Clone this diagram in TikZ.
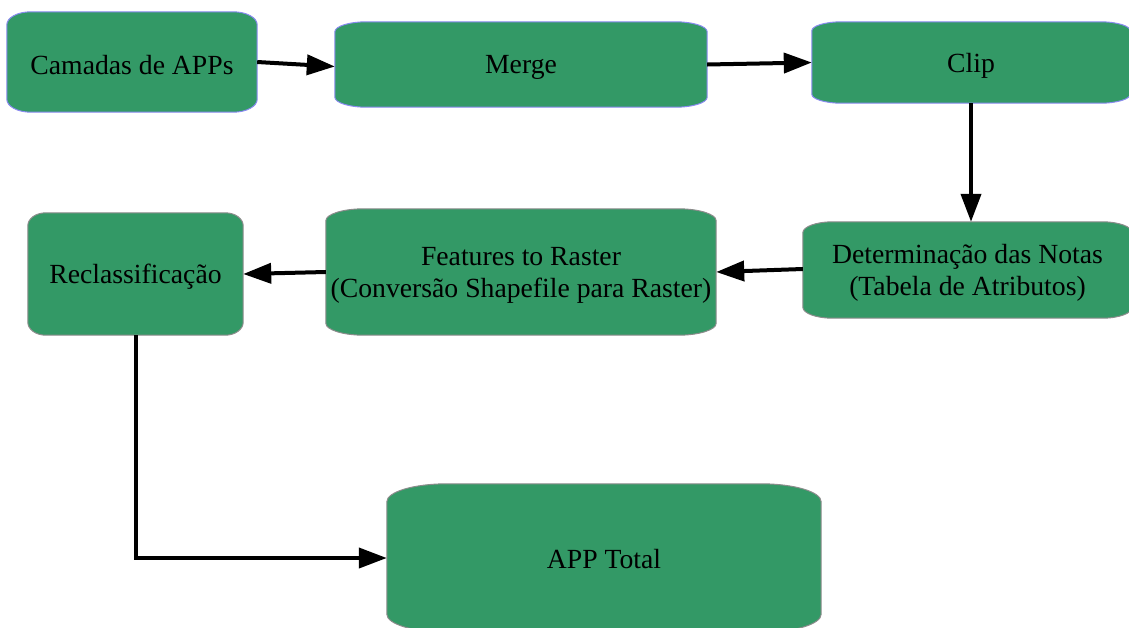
\documentclass[tikz,border=0pt]{standalone}
\usepackage{fontspec}
\setmainfont{Liberation Serif}
\usetikzlibrary{arrows.meta,calc,backgrounds}
\definecolor{boxgreen}{HTML}{339966}
\definecolor{blueedge}{HTML}{8A8AF0}
\definecolor{grayedge}{HTML}{8C8C8C}
\tikzset{
  shapebox/.style={rectangle, draw=none, inner sep=0pt},
  lbl/.style={rectangle, draw=none, inner sep=0pt, align=center, font=\fontsize{27.7}{32}\selectfont},
  conn/.style={line width=4pt, -{Triangle[length=28pt,width=20pt]}},
}
\newcommand\rbox[4]{% name, rx, ry, edge colour
  \begin{scope}[on background layer]
  \filldraw[fill=boxgreen, draw=#4, line width=1pt]
    ($(#1.north west)+(0pt,-#3)$) arc[start angle=180,end angle=90,x radius=#2,y radius=#3]
    -- ($(#1.north east)+(-#2,0pt)$) arc[start angle=90,end angle=0,x radius=#2,y radius=#3]
    -- ($(#1.south east)+(0pt,#3)$) arc[start angle=0,end angle=-90,x radius=#2,y radius=#3]
    -- ($(#1.south west)+(#2,0pt)$) arc[start angle=270,end angle=180,x radius=#2,y radius=#3]
    -- cycle;
  \end{scope}}
\begin{document}
\begin{tikzpicture}[x=1pt,y=-1pt]
\useasboundingbox (0,0) rectangle (1129,627);
\node[shapebox, minimum width=250pt, minimum height=100pt] (cam) at (132,62) {};
\node[shapebox, minimum width=372pt, minimum height=85pt] (merge) at (521,64.5) {};
\node[shapebox, minimum width=318pt, minimum height=81pt] (clip) at (971,62.5) {};
\node[shapebox, minimum width=329pt, minimum height=96pt] (det) at (967.5,270) {};
\node[shapebox, minimum width=390pt, minimum height=126pt] (feat) at (521,272) {};
\node[shapebox, minimum width=215pt, minimum height=122pt] (recl) at (135.5,274) {};
\node[shapebox, minimum width=434pt, minimum height=148pt] (total) at (604,558) {};
\node[lbl, yshift=-3pt] (camt) at (cam) {Camadas de APPs};
\node[lbl, yshift=-3pt] (merget) at (merge) {Merge};
\node[lbl, yshift=-3pt] (clipt) at (clip) {Clip};
\node[lbl, yshift=-3pt] (dett) at (det) {Determinação das Notas\\(Tabela de Atributos)};
\node[lbl, yshift=-3pt] (featt) at (feat) {Features to Raster\\(Conversão Shapefile para Raster)};
\node[lbl, yshift=-3pt] (reclt) at (recl) {Reclassificação};
\node[lbl, yshift=-1pt] (totalt) at (total) {APP Total};
\rbox{cam}{24pt}{13pt}{blueedge}
\rbox{merge}{32pt}{10pt}{blueedge}
\rbox{clip}{30pt}{9pt}{blueedge}
\rbox{det}{30pt}{11pt}{grayedge}
\rbox{feat}{38pt}{12pt}{grayedge}
\rbox{recl}{18pt}{13pt}{grayedge}
\rbox{total}{60pt}{18pt}{grayedge}
\draw[conn] (cam.east) -- ([yshift=-2pt]merge.west);
\draw[conn] (merge.east) -- (clip.west);
\draw[conn] (clip.south) -- (clip.south |- det.north);
\draw[conn] ([yshift=1pt]det.west) -- (feat.east);
\draw[conn] (feat.west) -- (recl.east);
\draw[conn] (recl.south) -- (recl.south |- total.west) -- (total.west);
\end{tikzpicture}
\end{document}
